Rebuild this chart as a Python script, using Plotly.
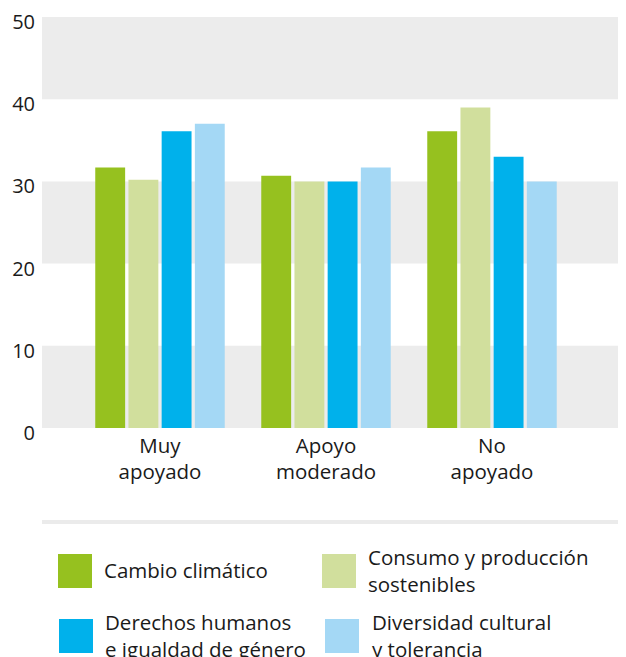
import plotly.graph_objects as go

# datos
categorias = ['Muy<br>apoyado', 'Apoyo<br>moderado', 'No<br>apoyado']
series = ['Cambio climático', 'Consumo y producción<br>sostenibles',
          'Derechos humanos<br>e igualdad de género', 'Diversidad cultural<br>y tolerancia']
cambio = [31.7, 30.7, 36.1]
consumo = [30.2, 30.0, 39.0]
derechos = [36.1, 30.0, 33.0]
diversidad = [37.0, 31.7, 30.0]
y_ticks = [0, 10, 20, 30, 40, 50]

COLORS = ['#96c11f', '#d1df9d', '#00b1eb', '#a4d8f5']
FONT = 'Open Sans'
TXT = '#1a1a1a'

# la pagina deja 8px de margen en el body
OFF = 8
W, H = 626 - OFF, 657 - OFF
L, R, T, B = 42 - OFF, 0, 17 - OFF, 657 - 428


def px_x(px):
    # px en coordenadas de la captura
    return (px - OFF - L) / (W - L - R)


def px_y(py):
    return (H - B - (py - OFF)) / (H - T - B)


fig = go.Figure()
pos = list(range(len(categorias)))
for i, vals in enumerate([cambio, consumo, derechos, diversidad]):
    fig.add_trace(go.Bar(x=pos, y=vals, name=series[i],
                         marker_color=COLORS[i], marker_line_width=0,
                         showlegend=False))

# bandas grises alternas
for y0 in [0, 20, 40]:
    fig.add_shape(type='rect', xref='paper', yref='y', x0=0, x1=1,
                  y0=y0, y1=y0 + 10, fillcolor='#ececec', line_width=0,
                  layer='below')

# linea separadora
fig.add_shape(type='line', xref='paper', yref='paper', x0=0, x1=1,
              y0=px_y(522), y1=px_y(522), line=dict(color='#ebebeb', width=4))

# leyenda manual
leg = [(58, 571, 103), (322, 571, 367), (59, 636, 104), (325, 636, 371)]
for i, (sx, sy, tx) in enumerate(leg):
    fig.add_shape(type='rect', xref='paper', yref='paper',
                  x0=px_x(sx), x1=px_x(sx + 34),
                  y0=px_y(sy - 17), y1=px_y(sy + 17),
                  fillcolor=COLORS[i], line_width=0)
    fig.add_annotation(x=px_x(tx - 1), y=px_y(sy - 1), xref='paper', yref='paper',
                       text=series[i], showarrow=False, xanchor='left',
                       yanchor='middle', align='left',
                       font=dict(family=FONT, size=20.5, color=TXT))

fig.update_layout(
    width=W, height=H,
    margin=dict(l=L, r=R, t=T, b=B, pad=0),
    barmode='group', bargap=0.2, bargroupgap=0.1,
    plot_bgcolor='white', paper_bgcolor='white',
    font=dict(family=FONT, size=20, color=TXT),
)
fig.update_xaxes(type='linear', range=[-0.7108, 2.8072],
                 tickvals=pos, ticktext=categorias, showgrid=False,
                 zeroline=False, showline=False, ticks='',
                 tickfont=dict(size=20.5), ticklabelstandoff=3)
fig.update_yaxes(range=[0, 50], tickvals=y_ticks, showgrid=False,
                 zeroline=False, showline=False, ticks='',
                 ticklabelstandoff=6, ticklabelshift=5)

fig.write_html('out.html')
